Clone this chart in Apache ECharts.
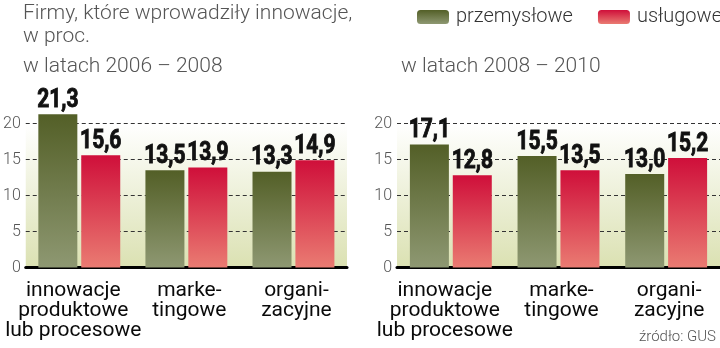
<!DOCTYPE html>
<html>
<head>
<meta charset="utf-8">
<script src="https://cdn.jsdelivr.net/npm/echarts@6/dist/echarts.min.js"></script>
<style>
  html, body { margin: 0; padding: 0; background: #fff; }
  #chart { width: 720px; height: 348px; }
</style>
</head>
<body>
<div id="chart"></div>
<script>
// Kategorie innowacji
const categories = ['innowacje\nproduktowe\nlub procesowe', 'marke-\ntingowe', 'organi-\nzacyjne'];
// Odsetek firm, lata 2006–2008
const przemyslowe2006 = [21.3, 13.5, 13.3];
const uslugowe2006 = [15.6, 13.9, 14.9];
// Odsetek firm, lata 2008–2010
const przemyslowe2008 = [17.1, 15.5, 13.0];
const uslugowe2008 = [12.8, 13.5, 15.2];
// Podziałka osi wartości
const yMin = 0, yMax = 20, yStep = 5;

const FONT = 'Roboto, "Noto Sans", sans-serif';
const BAR_W = 39;
const BAR_GAP = 0.1;                         // odstęp w parze słupków, ułamek szerokości
const PAIR_SHIFT = BAR_W * (1 + BAR_GAP) / 2; // przesunięcie środka słupka od środka kategorii

const greenFill = new echarts.graphic.LinearGradient(0, 0, 0, 1, [
  { offset: 0, color: '#535f27' },
  { offset: 1, color: '#8e9872' }
]);
const redFill = new echarts.graphic.LinearGradient(0, 0, 0, 1, [
  { offset: 0, color: '#cf0f3a' },
  { offset: 1, color: '#ea7b72' }
]);
const plotBg = new echarts.graphic.LinearGradient(0, 0, 0, 1, [
  { offset: 0, color: '#ffffff' },
  { offset: 1, color: '#dbe1b2' }
]);

const fmt = v => v.toFixed(1).replace('.', ',');

// Podpisy kategorii: pierwszy odsunięty w lewo, pozostałe lekko w prawo
function catLabel(value, index) {
  const style = index === 0 ? 'l' : 'r';
  return value.split('\n').map(line => '{' + style + '|' + line + '}').join('\n');
}

function xAxis(gridIndex) {
  const base = { color: '#0a0a0a', fontSize: 21, lineHeight: 20, fontFamily: FONT };
  return {
    type: 'category', gridIndex, data: categories,
    axisLine: { lineStyle: { color: '#000', width: 3 } },
    axisTick: { show: false },
    axisLabel: {
      interval: 0, margin: 13, ...base,
      formatter: catLabel,
      rich: {
        l: { ...base, padding: [0, 12, 0, 0] },
        r: { ...base, padding: [0, 0, 0, 6] }
      }
    }
  };
}
function yAxis(gridIndex) {
  return {
    type: 'value', gridIndex, min: yMin, max: yMax, interval: yStep,
    axisLine: { show: false }, axisTick: { show: false },
    axisLabel: { margin: 5, color: '#555', fontSize: 16, fontFamily: FONT, fontWeight: 300 },
    splitLine: { lineStyle: { color: '#333', width: 1, type: [4, 3] } }
  };
}
function barSeries(name, data, fill, idx) {
  return {
    name, type: 'bar', data, xAxisIndex: idx, yAxisIndex: idx,
    barWidth: BAR_W, barGap: (BAR_GAP * 100) + '%', clip: false,
    itemStyle: { color: fill }
  };
}
// Wartości nad słupkami: wąskie, pogrubione cyfry
function valueLabels(data, idx, side) {
  return {
    type: 'custom', xAxisIndex: idx, yAxisIndex: idx, z: 5, silent: true,
    data: data.map((v, i) => [i, v]),
    renderItem: (params, api) => {
      const p = api.coord([api.value(0), api.value(1)]);
      return {
        type: 'text', x: p[0] + side * PAIR_SHIFT, y: p[1] - 1, scaleX: 0.84,
        style: {
          text: fmt(api.value(1)), fill: '#111', stroke: '#111', lineWidth: 0.9,
          fontSize: 25, fontWeight: 'bold', fontFamily: FONT,
          align: 'center', verticalAlign: 'bottom'
        }
      };
    }
  };
}

const chart = echarts.init(document.getElementById('chart'));
chart.setOption({
  animation: false,
  legend: {
    orient: 'horizontal', left: 412, top: 2, width: 308,
    itemWidth: 32, itemHeight: 14, itemGap: 25,
    icon: 'roundRect',
    textStyle: { fontSize: 20, color: '#333', fontFamily: FONT, fontWeight: 300, padding: [0, 0, 0, 2] },
    data: ['przemysłowe', 'usługowe']
  },
  grid: [
    { left: 25, width: 322, top: 123.5, height: 144, show: true, backgroundColor: plotBg, borderWidth: 0 },
    { left: 397, width: 323, top: 123.5, height: 144, show: true, backgroundColor: plotBg, borderWidth: 0 }
  ],
  xAxis: [xAxis(0), xAxis(1)],
  yAxis: [yAxis(0), yAxis(1)],
  series: [
    barSeries('przemysłowe', przemyslowe2006, greenFill, 0),
    barSeries('usługowe', uslugowe2006, redFill, 0),
    barSeries('przemysłowe', przemyslowe2008, greenFill, 1),
    barSeries('usługowe', uslugowe2008, redFill, 1),
    valueLabels(przemyslowe2006, 0, -1),
    valueLabels(uslugowe2006, 0, 1),
    valueLabels(przemyslowe2008, 1, -1),
    valueLabels(uslugowe2008, 1, 1)
  ],
  graphic: [
    { type: 'text', left: 23, top: 3, style: { text: 'Firmy, które wprowadziły innowacje,', fontSize: 21, fill: '#555', fontFamily: FONT, fontWeight: 300 } },
    { type: 'text', left: 23, top: 26, style: { text: 'w proc.', fontSize: 21, fill: '#555', fontFamily: FONT, fontWeight: 300 } },
    { type: 'text', left: 23, top: 56, style: { text: 'w latach 2006 – 2008', fontSize: 21, fill: '#555', fontFamily: FONT, fontWeight: 300 } },
    { type: 'text', left: 401, top: 56, style: { text: 'w latach 2008 – 2010', fontSize: 21, fill: '#555', fontFamily: FONT, fontWeight: 300 } },
    { type: 'text', right: 4, top: 330, style: { text: 'źródło: GUS', fontSize: 15, fill: '#555', fontFamily: FONT, fontWeight: 300 } }
  ]
});
</script>
</body>
</html>
